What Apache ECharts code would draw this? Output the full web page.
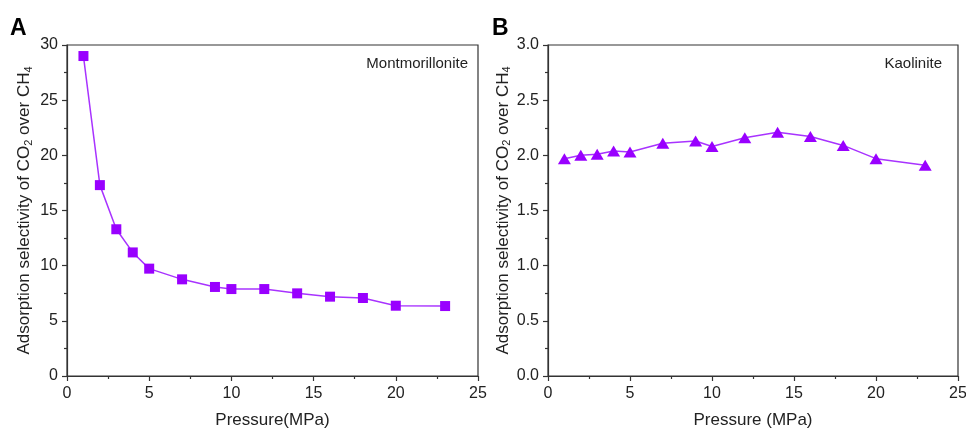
<!DOCTYPE html>
<html>
<head>
<meta charset="utf-8">
<script src="https://cdn.jsdelivr.net/npm/echarts@6/dist/echarts.min.js"></script>
<style>
html,body{margin:0;padding:0;background:#fff;}
#c{width:966px;height:430px;}
</style>
</head>
<body>
<div id="c"></div>
<script>
const pressure = [1, 2, 3, 4, 5, 7, 9, 10, 12, 14, 16, 18, 20, 23];
const montmorillonite = [29.0, 17.3, 13.3, 11.2, 9.73, 8.76, 8.07, 7.88, 7.88, 7.49, 7.19, 7.07, 6.37, 6.34];
const kaolinite = [1.97, 2.0, 2.01, 2.04, 2.03, 2.11, 2.13, 2.08, 2.16, 2.21, 2.17, 2.09, 1.97, 1.91];
const xTicks = [0, 5, 10, 15, 20, 25];
const yTicksA = [0, 5, 10, 15, 20, 25, 30];
const yTicksB = [0.0, 0.5, 1.0, 1.5, 2.0, 2.5, 3.0];

const FONT = 'Liberation Sans, Arial, sans-serif';
const AX = '#333';
const PURPLE = '#9900ff';
const LINEC = '#a833ff';

function xAxis(idx, name) {
  return {
    type: 'value', gridIndex: idx, min: xTicks[0], max: xTicks[xTicks.length - 1], interval: 5,
    name: name, nameLocation: 'middle', nameGap: 36,
    nameTextStyle: {fontFamily: FONT, fontSize: 17, color: '#222'},
    axisLine: {show: true, lineStyle: {color: AX, width: 1.2}},
    axisTick: {show: true, inside: false, length: 5, lineStyle: {color: AX, width: 1.2}},
    minorTick: {show: true, splitNumber: 2, length: 3, lineStyle: {color: AX, width: 1.2}},
    splitLine: {show: false},
    axisLabel: {fontFamily: FONT, fontSize: 16, color: '#222', margin: 10}
  };
}
function yAxis(idx, ticks, dec) {
  return {
    type: 'value', gridIndex: idx, min: ticks[0], max: ticks[ticks.length - 1],
    interval: ticks[1] - ticks[0],
    name: 'Adsorption selectivity of CO{s|2} over CH{s|4}',
    nameLocation: 'middle', nameGap: 33, nameRotate: 90,
    nameTextStyle: {fontFamily: FONT, fontSize: 17, color: '#222', lineHeight: 20,
      rich: {s: {fontFamily: FONT, fontSize: 11, color: '#222', lineHeight: 20, padding: [9, 0, 0, 0]}}},
    axisLine: {show: true, lineStyle: {color: AX, width: 1.2}},
    axisTick: {show: true, inside: false, length: 5, lineStyle: {color: AX, width: 1.2}},
    minorTick: {show: true, splitNumber: 2, length: 3, lineStyle: {color: AX, width: 1.2}},
    splitLine: {show: false},
    axisLabel: {fontFamily: FONT, fontSize: 16, color: '#222', margin: 9,
      formatter: v => dec ? v.toFixed(1) : String(v)}
  };
}

const chart = echarts.init(document.getElementById('c'), null, {renderer: 'canvas'});
chart.setOption({
  animation: false,
  backgroundColor: '#fff',
  grid: [
    {left: 67, right: 488, top: 45, bottom: 54, show: true, borderColor: AX, borderWidth: 1.2, outerBoundsMode: 'none'},
    {left: 548, right: 8, top: 45, bottom: 54, show: true, borderColor: AX, borderWidth: 1.2, outerBoundsMode: 'none'}
  ],
  xAxis: [xAxis(0, 'Pressure(MPa)'), xAxis(1, 'Pressure (MPa)')],
  yAxis: [yAxis(0, yTicksA, false), yAxis(1, yTicksB, true)],
  series: [
    {type: 'line', xAxisIndex: 0, yAxisIndex: 0,
     data: pressure.map((p, i) => [p, montmorillonite[i]]),
     symbol: 'rect', symbolSize: 10,
     itemStyle: {color: PURPLE}, lineStyle: {color: LINEC, width: 1.5}},
    {type: 'line', xAxisIndex: 1, yAxisIndex: 1,
     data: pressure.map((p, i) => [p, kaolinite[i]]),
     symbol: 'triangle', symbolSize: [13, 11],
     itemStyle: {color: PURPLE}, lineStyle: {color: LINEC, width: 1.5}}
  ],
  graphic: [
    {type: 'text', left: 10, top: 17, style: {text: 'A', font: 'bold 23px ' + FONT, fill: '#000'}},
    {type: 'text', left: 492, top: 17, style: {text: 'B', font: 'bold 23px ' + FONT, fill: '#000'}},
    {type: 'text', right: 498, top: 56, style: {text: 'Montmorillonite', font: '15px ' + FONT, fill: '#222'}},
    {type: 'text', right: 24, top: 56, style: {text: 'Kaolinite', font: '15px ' + FONT, fill: '#222'}}
  ]
});
</script>
</body>
</html>
